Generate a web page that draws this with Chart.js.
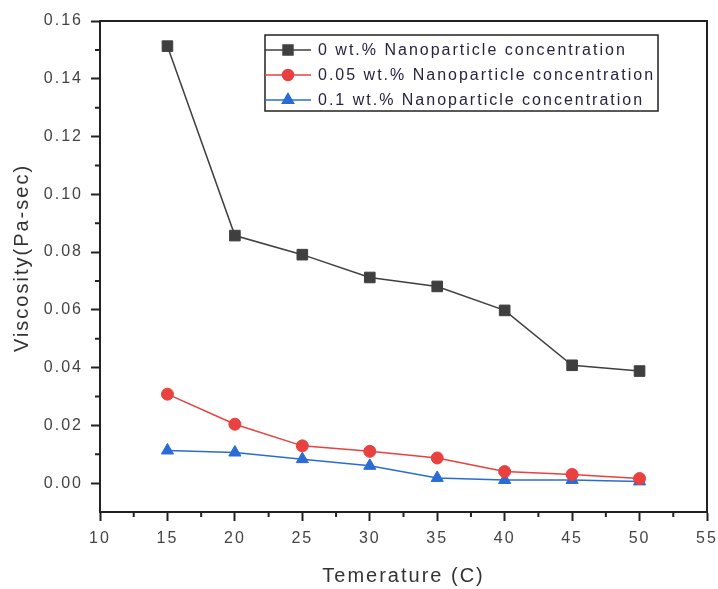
<!DOCTYPE html>
<html>
<head>
<meta charset="utf-8">
<script src="https://cdn.jsdelivr.net/npm/chart.js@4/dist/chart.umd.min.js"></script>
<style>
  html, body { margin: 0; padding: 0; background: #fff; }
  #wrap { width: 718px; height: 589px; }
</style>
</head>
<body>
<div id="wrap"><canvas id="chart" width="718" height="589"></canvas></div>
<script>
// data
const temperatures = [15, 20, 25, 30, 35, 40, 45, 50];
const visc0 = [0.1513, 0.0857, 0.0791, 0.0712, 0.0681, 0.0598, 0.0408, 0.0388];
const visc005 = [0.0308, 0.0204, 0.0129, 0.0110, 0.0087, 0.0040, 0.0030, 0.0016];
const visc01 = [0.0113, 0.0106, 0.0083, 0.0060, 0.0018, 0.0011, 0.0011, 0.0006];
const seriesLabels = [
    '0 wt.% Nanoparticle concentration',
    '0.05 wt.% Nanoparticle concentration',
    '0.1 wt.% Nanoparticle concentration'
];
const xTicks = [10, 15, 20, 25, 30, 35, 40, 45, 50, 55];
const yTicks = [0.00, 0.02, 0.04, 0.06, 0.08, 0.10, 0.12, 0.14, 0.16];

const FONT = '"Liberation Sans", Arial, sans-serif';
const AXIS = '#222';

function toPoints(ys) {
    return temperatures.map((t, i) => ({ x: t, y: ys[i] }));
}

// Frame, minor ticks, axis titles and the inset legend
const extras = {
    id: 'extras',
    beforeDraw(chart) {
        const ctx = chart.ctx;
        ctx.save();
        ctx.fillStyle = '#fff';
        ctx.fillRect(0, 0, chart.width, chart.height);
        ctx.restore();
        ctx.letterSpacing = '2px';
    },
    afterDraw(chart) {
        const ctx = chart.ctx;
        const a = chart.chartArea;
        const xs = chart.scales.x, ys = chart.scales.y;
        ctx.save();
        ctx.strokeStyle = AXIS;
        ctx.lineWidth = 2;
        // top + right frame
        ctx.beginPath();
        ctx.moveTo(a.left - 1, a.top);
        ctx.lineTo(a.right, a.top);
        ctx.lineTo(a.right, a.bottom + 1);
        ctx.stroke();

        // minor ticks
        ctx.beginPath();
        for (let i = 0; i < xTicks.length - 1; i++) {
            const px = xs.getPixelForValue((xTicks[i] + xTicks[i + 1]) / 2);
            ctx.moveTo(px, a.bottom);
            ctx.lineTo(px, a.bottom + 5);
        }
        for (let i = 0; i < yTicks.length - 1; i++) {
            const py = ys.getPixelForValue((yTicks[i] + yTicks[i + 1]) / 2);
            ctx.moveTo(a.left, py);
            ctx.lineTo(a.left - 5, py);
        }
        ctx.stroke();

        // axis titles
        ctx.fillStyle = '#333';
        ctx.font = '20px ' + FONT;
        ctx.textAlign = 'center';
        ctx.textBaseline = 'middle';
        ctx.fillText('Temerature (C)', (a.left + a.right) / 2, 576);
        ctx.save();
        ctx.translate(22, 258);
        ctx.rotate(-Math.PI / 2);
        ctx.fillText('Viscosity(Pa-sec)', 0, 0);
        ctx.restore();

        // legend
        const box = { x: 265, y: 35, w: 393, h: 76 };
        ctx.lineWidth = 1.5;
        ctx.strokeStyle = '#222';
        ctx.strokeRect(box.x, box.y, box.w, box.h);
        ctx.font = '16px ' + FONT;
        ctx.textAlign = 'left';
        chart.data.datasets.forEach((ds, i) => {
            const y = 50 + i * 25;
            ctx.strokeStyle = ds.borderColor;
            ctx.lineWidth = 1.5;
            ctx.beginPath();
            ctx.moveTo(box.x, y);
            ctx.lineTo(311, y);
            ctx.stroke();
            ctx.fillStyle = ds.pointBackgroundColor;
            ctx.strokeStyle = ds.pointBorderColor;
            Chart.helpers.drawPoint(ctx, {
                pointStyle: ds.pointStyle,
                radius: ds.pointRadius - 0.5,
                rotation: 0,
                borderWidth: 1
            }, 288, y);
            ctx.fillStyle = '#262440';
            ctx.fillText(seriesLabels[i], 318, y + 1);
        });
        ctx.restore();
    }
};

function makeSet(label, data, color, style, radius) {
    return {
        label: label,
        data: toPoints(data),
        borderColor: color,
        backgroundColor: color,
        pointBackgroundColor: color,
        pointBorderColor: color,
        pointBorderWidth: 1,
        pointStyle: style,
        pointRadius: radius,
        borderWidth: 1.5,
        tension: 0
    };
}

new Chart(document.getElementById('chart'), {
    type: 'line',
    data: {
        datasets: [
            makeSet(seriesLabels[0], visc0, '#3f3f3f', 'rect', 7.5),
            makeSet(seriesLabels[1], visc005, '#e8413f', 'circle', 6),
            makeSet(seriesLabels[2], visc01, '#2a6cd4', 'triangle', 7)
        ]
    },
    options: {
        responsive: false,
        animation: false,
        layout: { padding: { top: 21, right: 11, left: 0, bottom: 0 } },
        plugins: {
            legend: { display: false },
            tooltip: { enabled: false }
        },
        scales: {
            x: {
                type: 'linear',
                min: 10,
                max: 55,
                afterFit: s => { s.height = 77; s.paddingRight = 0; s.paddingLeft = 0; },
                afterBuildTicks: s => { s.ticks = xTicks.map(v => ({ value: v })); },
                ticks: {
                    padding: 8,
                    color: '#444',
                    font: { family: FONT, size: 16 },
                    callback: v => String(v)
                },
                grid: { drawOnChartArea: false, tickLength: 9, tickColor: AXIS, tickWidth: 2 },
                border: { display: true, color: AXIS, width: 2 }
            },
            y: {
                min: -0.01,
                max: 0.16,
                afterFit: s => { s.width = 100; s.paddingTop = 0; s.paddingBottom = 0; },
                afterBuildTicks: s => { s.ticks = yTicks.map(v => ({ value: v })); },
                ticks: {
                    padding: 8,
                    color: '#444',
                    font: { family: FONT, size: 16 },
                    callback: v => v.toFixed(2)
                },
                grid: { drawOnChartArea: false, tickLength: 9, tickColor: AXIS, tickWidth: 2 },
                border: { display: true, color: AXIS, width: 2 }
            }
        }
    },
    plugins: [extras]
});
</script>
</body>
</html>
